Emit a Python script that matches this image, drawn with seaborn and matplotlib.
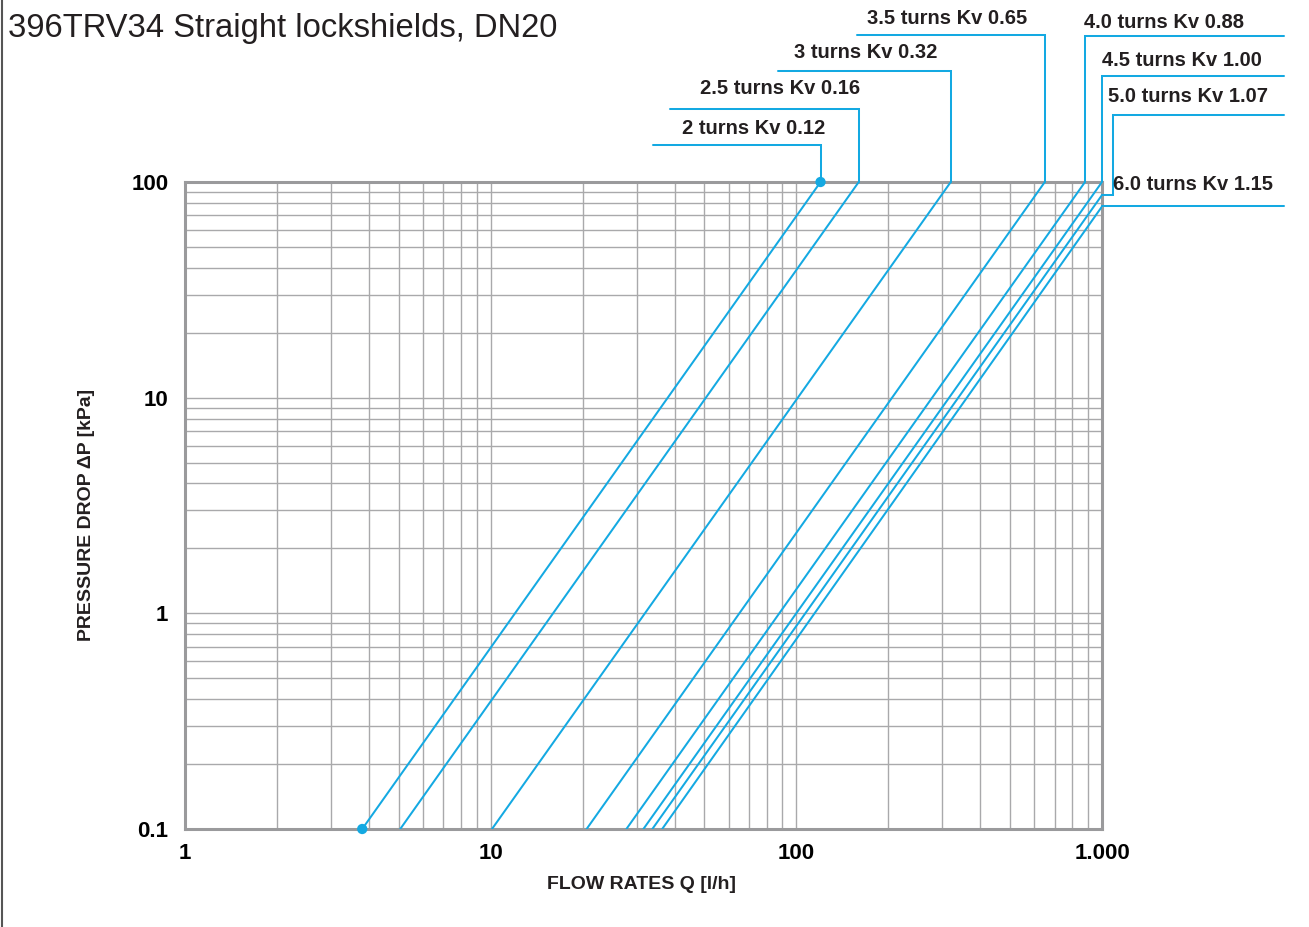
import numpy as np
import pandas as pd
import matplotlib
matplotlib.use("Agg")
import matplotlib.pyplot as plt
from matplotlib.lines import Line2D
import seaborn as sns

# ---------------- data ----------------
labels = ["2 turns Kv 0.12", "2.5 turns Kv 0.16", "3 turns Kv 0.32", "3.5 turns Kv 0.65",
          "4.0 turns Kv 0.88", "4.5 turns Kv 1.00", "5.0 turns Kv 1.07", "6.0 turns Kv 1.15"]
kv = [0.12, 0.16, 0.32, 0.65, 0.88, 1.00, 1.07, 1.15]
q_start = [3.8, 5.06, 10.1, 20.6, 27.8, 31.6, 33.8, 36.4]      # Q [l/h] at 0.1 kPa
dp_start = [0.1, 0.1, 0.1, 0.1, 0.1, 0.1, 0.1, 0.1]
q_end = [120, 160, 320, 650, 880, 1000, 1000, 1000]             # Q [l/h] at line end
dp_end = [100, 100, 100, 100, 100, 100, 87, 77]                 # dP [kPa] at line end
x_ticks = [1, 10, 100, 1000]
x_ticklabels = ["1", "10", "100", "1.000"]
y_ticks = [0.1, 1, 10, 100]
y_ticklabels = ["0.1", "1", "10", "100"]
title = "396TRV34 Straight lockshields, DN20"
xlabel = "FLOW RATES Q [l/h]"
ylabel = "PRESSURE DROP \u0394P [kPa]"

rows = []
for lab, qs, ds, qe, de in zip(labels, q_start, dp_start, q_end, dp_end):
    rows.append({"label": lab, "Q": qs, "dP": ds, "order": 0})
    rows.append({"label": lab, "Q": qe, "dP": de, "order": 1})
df = pd.DataFrame(rows)

# ---------------- style ----------------
sns.set_style("white")
plt.rcParams["font.family"] = ["Liberation Sans", "DejaVu Sans"]

CYAN = "#14A9E2"
GRID = "#A9A9AB"
SPINE = "#9A9A9C"
TXT = "#231F20"

W, H = 1309, 927
fig = plt.figure(figsize=(W / 100, H / 100), dpi=100)
ax_l, ax_r, ax_t, ax_b = 185, 1102, 182, 829
ax = fig.add_axes([ax_l / W, 1 - ax_b / H, (ax_r - ax_l) / W, (ax_b - ax_t) / H])

ax.set_xscale("log")
ax.set_yscale("log")
ax.set_xlim(1, 1000)
ax.set_ylim(0.1, 100)

sns.lineplot(data=df, x="Q", y="dP", hue="label", units="label", estimator=None, sort=False,
             palette={l: CYAN for l in labels}, legend=False, lw=1.45, ax=ax, zorder=3)

dots = pd.DataFrame({"Q": [q_start[0], q_end[0]], "dP": [dp_start[0], dp_end[0]]})
sns.scatterplot(data=dots, x="Q", y="dP", color=CYAN, s=55, edgecolor="none", ax=ax,
                zorder=5, clip_on=False)

# grid
ax.grid(True, which="major", color=GRID, lw=1.0)
ax.grid(True, which="minor", color=GRID, lw=1.0)
ax.set_axisbelow(True)
for s in ax.spines.values():
    s.set_color(SPINE)
    s.set_linewidth(2.2)

ax.set_xticks(x_ticks)
ax.set_xticklabels(x_ticklabels)
ax.set_yticks(y_ticks)
ax.set_yticklabels(y_ticklabels)
ax.tick_params(axis="both", which="major", length=4, width=1, color=SPINE,
               labelsize=16, labelcolor="#000000")
ax.tick_params(axis="x", which="major", pad=6)
ax.tick_params(axis="y", which="major", pad=8)
ax.tick_params(axis="both", which="minor", length=0)
for t in ax.get_xticklabels() + ax.get_yticklabels():
    t.set_fontweight("bold")

ax.set_xlabel(xlabel, fontsize=14, fontweight="bold", color=TXT)
ax.set_ylabel(ylabel, fontsize=14, fontweight="bold", color=TXT)
ax.xaxis.set_label_coords((641.5 - ax_l) / (ax_r - ax_l), (ax_b - 876) / (ax_b - ax_t))
ax.yaxis.set_label_coords((95 - ax_l) / (ax_r - ax_l), (ax_b - 515) / (ax_b - ax_t))

# title and frame line
fig.text(8 / W, 1 - 28 / H, title, fontsize=23.6, color=TXT, va="center", ha="left")
fig.add_artist(Line2D([2 / W, 2 / W], [0, 1], color="#555555", lw=1.5))

# ---------------- leaders and labels ----------------
def to_px(x, y):
    d = ax.transData.transform((x, y))
    f = fig.transFigure.inverted().transform(d)
    return f[0] * W, (1 - f[1]) * H

def draw_path(pts):
    xs = [p[0] / W for p in pts]
    ys = [1 - p[1] / H for p in pts]
    fig.add_artist(Line2D(xs, ys, color=CYAN, lw=1.45, solid_joinstyle="miter"))

FAR_R = 1284
leader_y = [145, 109, 71, 35, 36, 76, 115, None]
leader_far = [653, 670, 778, 857, FAR_R, FAR_R, FAR_R, FAR_R]
text_pos = [(754, 128, "center"), (780, 89, "center"), (866, 53, "center"), (947, 19, "center"),
            (1084, 22, "left"), (1102, 60, "left"), (1108, 96, "left"), (1113, 185, "left")]

for i, lab in enumerate(labels):
    ex, ey = to_px(q_end[i], dp_end[i])
    if i <= 5:
        pts = [(ex, ey), (ex, leader_y[i]), (leader_far[i], leader_y[i])]
    elif i == 6:
        pts = [(ex, ey), (1113, ey), (1113, leader_y[i]), (FAR_R, leader_y[i])]
    else:
        pts = [(ex, ey), (FAR_R, ey)]
    draw_path(pts)
    tx, ty, ha = text_pos[i]
    fig.text(tx / W, 1 - ty / H, lab, fontsize=14.5, fontweight="bold", color=TXT,
             ha=ha, va="center")

fig.savefig("out.png", dpi=100)
